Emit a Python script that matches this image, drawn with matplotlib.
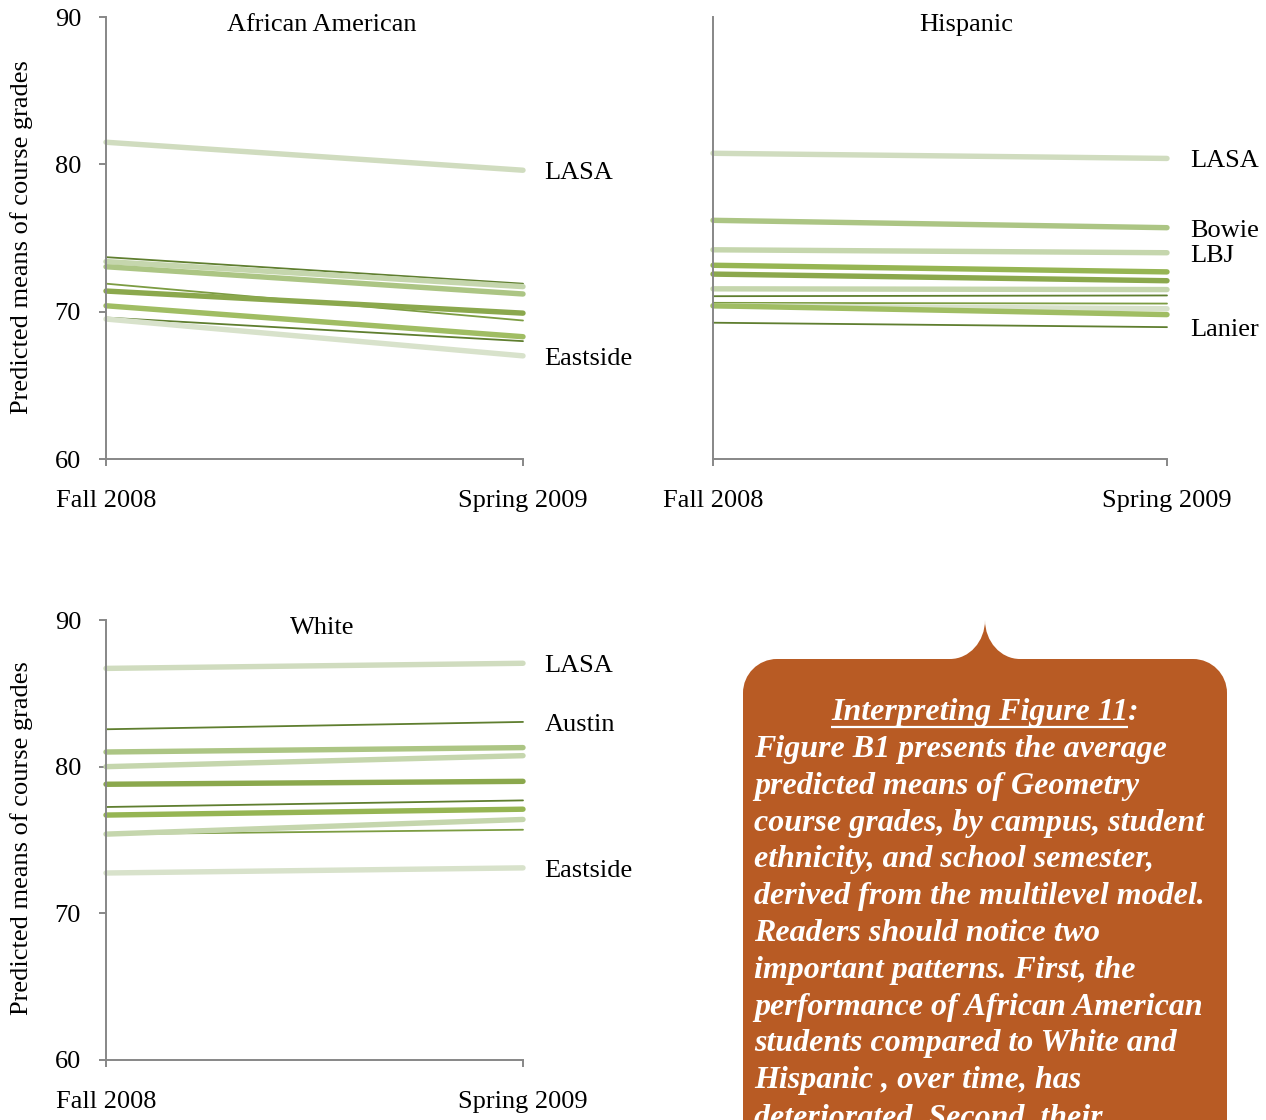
import matplotlib
matplotlib.use("Agg")
import matplotlib.pyplot as plt
from matplotlib.path import Path
from matplotlib.patches import PathPatch

# ---------------------------------------------------------------- data
semesters = ["Fall 2008", "Spring 2009"]
y_ticks = [60, 70, 80, 90]
y_label = "Predicted means of course grades"

# African American: predicted means per campus (Fall 2008, Spring 2009)
aa_fall   = [81.5, 73.7, 73.4, 73.05, 71.9, 71.4, 70.4, 69.6, 69.5]
aa_spring = [79.6, 71.9, 71.7, 71.2, 69.4, 69.9, 68.3, 68.0, 67.0]
aa_labels = ["LASA", "", "", "", "", "", "", "", "Eastside"]

# Hispanic
hi_fall   = [80.75, 76.2, 74.2, 73.15, 72.55, 71.55, 71.05, 70.6, 70.4, 70.4, 69.25]
hi_spring = [80.4, 75.7, 74.0, 72.7, 72.1, 71.5, 71.1, 70.55, 70.2, 69.8, 68.95]
hi_labels = ["LASA", "Bowie", "LBJ", "", "", "", "", "", "", "", "Lanier"]

# White
wh_fall   = [86.7, 82.55, 81.0, 80.0, 78.8, 77.25, 76.7, 75.4, 75.4, 72.75]
wh_spring = [87.05, 83.05, 81.3, 80.75, 79.0, 77.7, 77.1, 76.4, 75.7, 73.1]
wh_labels = ["LASA", "Austin", "", "", "", "", "", "", "", "Eastside"]

callout_title = "Interpreting Figure 11"
callout_lines = [
    "Figure B1 presents the average",
    "predicted means of Geometry",
    "course grades, by campus, student",
    "ethnicity, and school semester,",
    "derived from the multilevel model.",
    "Readers should notice two",
    "important patterns. First, the",
    "performance of African American",
    "students compared to White and",
    "Hispanic , over time, has",
    "deteriorated. Second, their",
]

# ---------------------------------------------------------------- styles
THICK, THIN = 3.9, 1.3
STYLE = {
    "lasa":  ("#d0dcbf", THICK),
    "pale":  ("#c5d6ad", THICK),
    "light": ("#acc584", THICK),
    "med":   ("#a0bd63", THICK),
    "green": ("#96b553", THICK),
    "olive": ("#8ba84d", THICK),
    "east":  ("#d8e2cb", THICK),
    "thin":  ("#7c9c42", THIN),
    "dark":  ("#5f7e2f", THIN),
}
aa_style = ["lasa", "dark", "pale", "light", "thin", "olive", "med", "dark", "east"]
hi_style = ["lasa", "light", "pale", "green", "olive", "pale", "dark", "thin",
            "east", "med", "dark"]
wh_style = ["lasa", "dark", "light", "pale", "olive", "dark", "green", "pale",
            "thin", "east"]

W, H = 1266, 1120
SERIF = "Liberation Serif"
FS = 19
SPINE = "#878787"

fig = plt.figure(figsize=(W / 100, H / 100), dpi=100)
fig.patch.set_facecolor("white")


def px_axes(left, top, right, bottom):
    return fig.add_axes([left / W, 1 - bottom / H, (right - left) / W, (bottom - top) / H])


def panel(box, fall, spring, styles, labels, title, title_px, show_y):
    ax = px_axes(*box)
    ax.set_xlim(0, 1)
    ax.set_ylim(60, 90)
    ax.patch.set_visible(False)
    for s in ("top", "right"):
        ax.spines[s].set_visible(False)
    for s in ("left", "bottom"):
        ax.spines[s].set_color(SPINE)
        ax.spines[s].set_linewidth(1.4)
    ax.set_xticks([0, 1])
    ax.set_xticklabels(semesters, fontsize=FS, family=SERIF)
    ax.tick_params(axis="x", direction="out", length=5, width=1.4, color=SPINE, pad=17)
    if show_y:
        ax.set_yticks(y_ticks)
        ax.set_yticklabels([str(v) for v in y_ticks], fontsize=FS, family=SERIF)
        ax.tick_params(axis="y", direction="out", length=5, width=1.4, color=SPINE, pad=13)
    else:
        ax.set_yticks([])

    # thin lines first, thick lines on top
    order = sorted(range(len(fall)), key=lambda i: STYLE[styles[i]][1])
    for i in order:
        color, lw = STYLE[styles[i]]
        ax.plot([0, 1], [fall[i], spring[i]], color=color, lw=lw,
                solid_capstyle="round", clip_on=False, zorder=2)
    for i, lab in enumerate(labels):
        if lab:
            ax.annotate(lab, xy=(1.052, spring[i]), xytext=(0, -2.2),
                        textcoords="offset points", fontsize=FS, family=SERIF,
                        ha="left", va="center", annotation_clip=False)
    fig.text(title_px[0] / W, 1 - title_px[1] / H, title, fontsize=FS,
             family=SERIF, ha="center", va="center")
    return ax


panel((106, 17, 523, 459), aa_fall, aa_spring, aa_style, aa_labels,
      "African American", (322, 25), True)
panel((713, 17, 1167, 459), hi_fall, hi_spring, hi_style, hi_labels,
      "Hispanic", (966, 25), False)
panel((106, 620, 523, 1060), wh_fall, wh_spring, wh_style, wh_labels,
      "White", (322, 628), True)

for yc in (237, 838):
    fig.text(22 / W, 1 - yc / H, y_label, fontsize=FS, family=SERIF,
             rotation=90, ha="center", va="center")

# ---------------------------------------------------------------- callout
ov = fig.add_axes([0, 0, 1, 1])
ov.set_xlim(0, W)
ov.set_ylim(H, 0)
ov.axis("off")
ov.patch.set_visible(False)

L, R, T, B = 743, 1227, 659, 1140
r = 34
k = 0.5523
px, py = 985, 620
hw, hh = 35, T - py
# rounded box with a cusp on top; the cusp flanks are concave quarter ellipses
verts = [
    (L, B),
    (L, T + r),
    (L, T + r - k * r), (L + r - k * r, T), (L + r, T),
    (px - hw, T),
    (px - hw + k * hw, T), (px, py + k * hh), (px, py),
    (px, py + k * hh), (px + hw - k * hw, T), (px + hw, T),
    (R - r, T),
    (R - r + k * r, T), (R, T + r - k * r), (R, T + r),
    (R, B),
    (L, B),
]
codes = [Path.MOVETO, Path.LINETO,
         Path.CURVE4, Path.CURVE4, Path.CURVE4,
         Path.LINETO,
         Path.CURVE4, Path.CURVE4, Path.CURVE4,
         Path.CURVE4, Path.CURVE4, Path.CURVE4,
         Path.LINETO,
         Path.CURVE4, Path.CURVE4, Path.CURVE4,
         Path.LINETO, Path.CLOSEPOLY]
ov.add_patch(PathPatch(Path(verts, codes), facecolor="#b85b24", edgecolor="none"))

tkw = dict(fontsize=23, family=SERIF, fontstyle="italic", fontweight="bold",
           color="white", va="baseline")
renderer = fig.canvas.get_renderer()
t1 = ov.text(0, 720, callout_title, ha="left", **tkw)
t2 = ov.text(0, 720, ":", ha="left", **tkw)
w1 = t1.get_window_extent(renderer).width
w2 = t2.get_window_extent(renderer).width
x0 = 985 - (w1 + w2) / 2
t1.set_x(x0)
t2.set_x(x0 + w1)
ov.plot([x0, x0 + w1], [726.5, 726.5], color="white", lw=1.6, solid_capstyle="butt")

for i, line in enumerate(callout_lines):
    ov.text(754, 757 + 36.8 * i, line, ha="left", **tkw)

fig.savefig("out.png", dpi=100)
